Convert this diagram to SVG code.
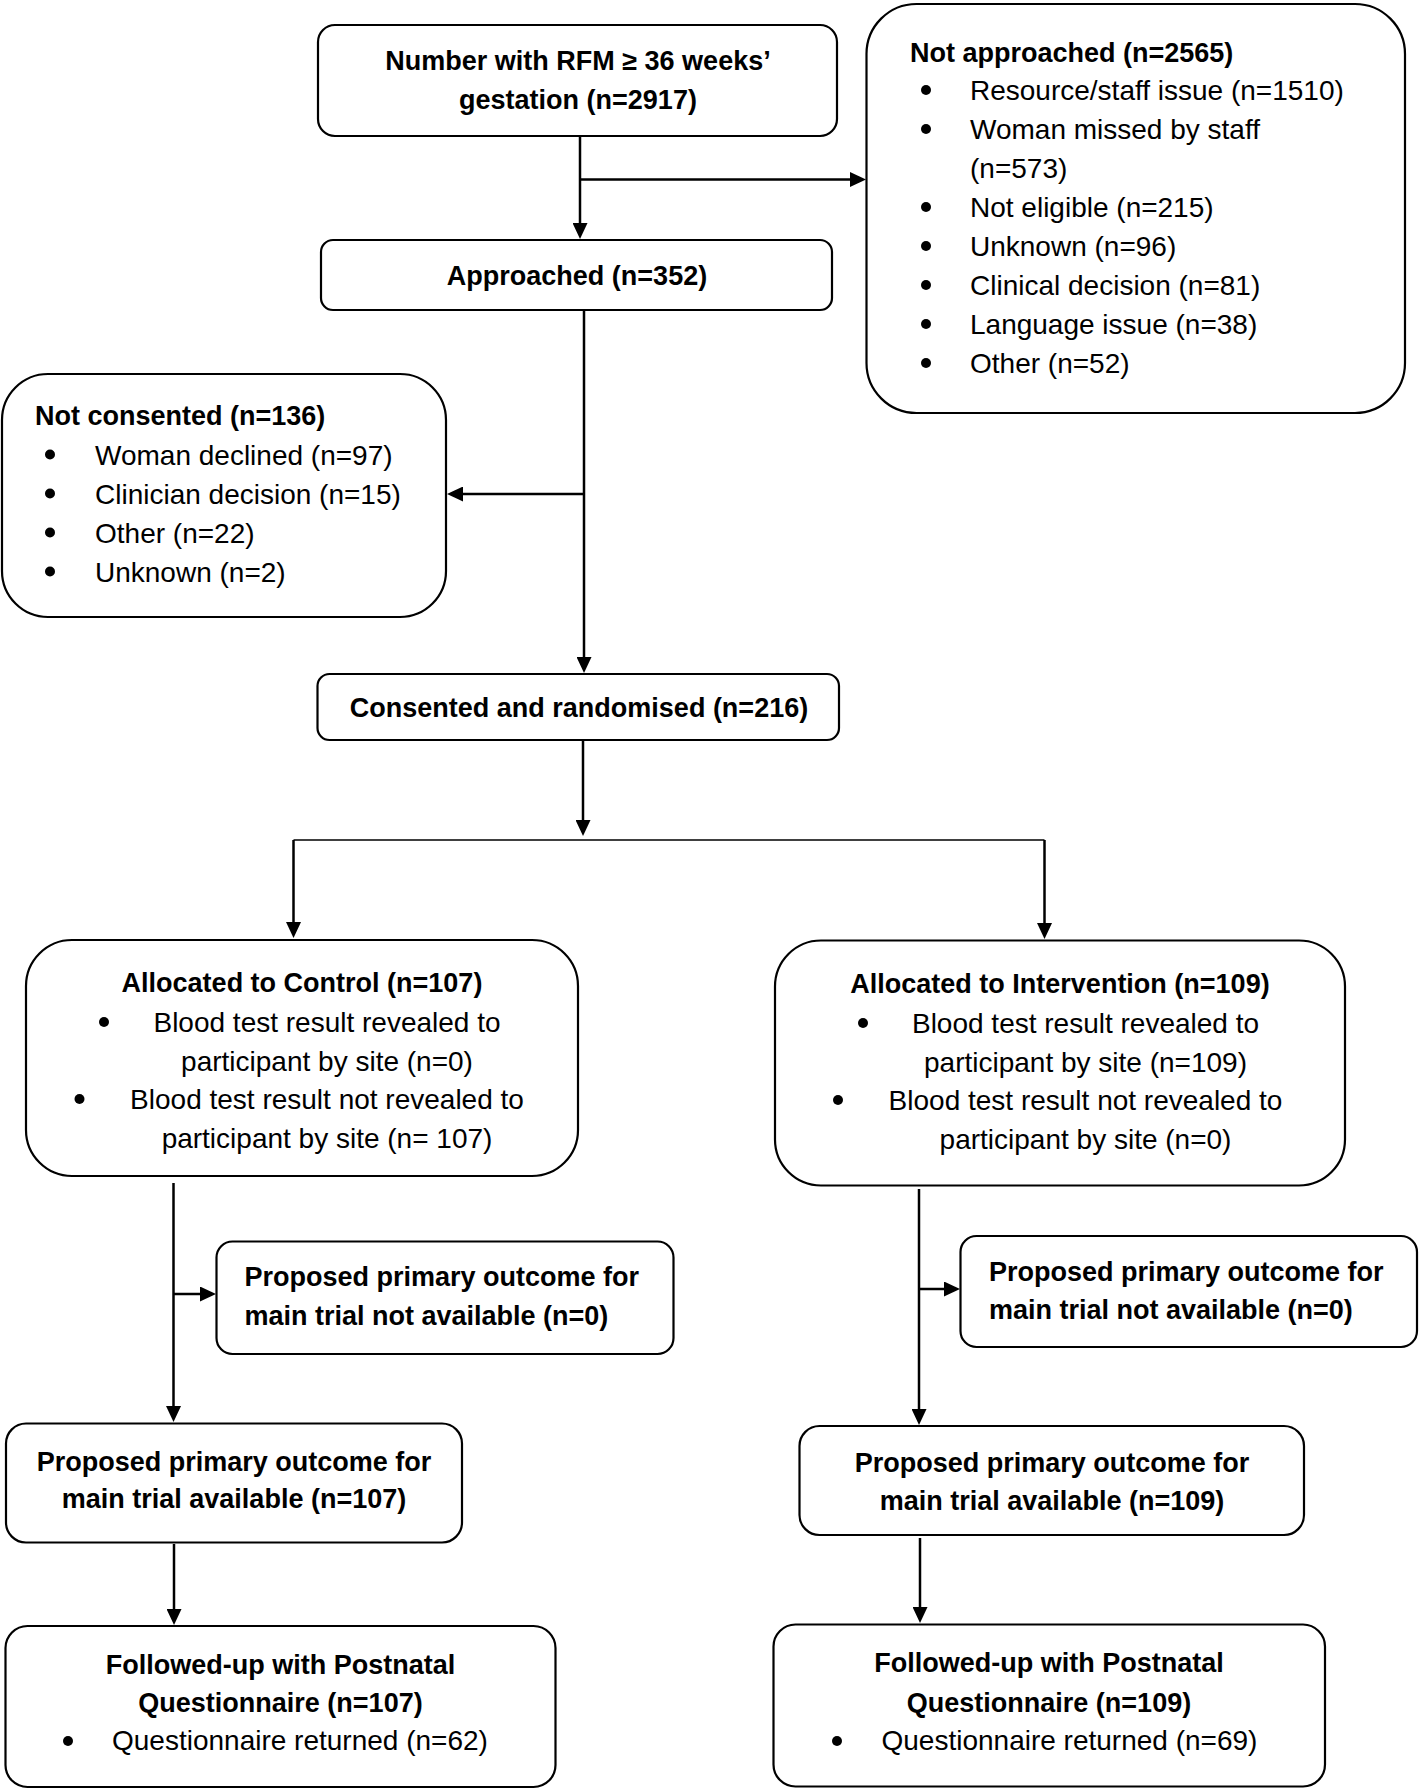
<svg xmlns="http://www.w3.org/2000/svg" width="1420" height="1790" viewBox="0 0 1420 1790">
<style>
  .box { fill: #fff; stroke: #000; stroke-width: 2.2; }
  .b { font-family: "Liberation Sans", Arial, sans-serif; font-weight: bold; font-size: 27px; fill: #000; }
  .r { font-family: "Liberation Sans", Arial, sans-serif; font-size: 28px; fill: #000; }
  .m { text-anchor: middle; }
  .ln { fill: none; stroke: #000; stroke-width: 2.5; }
  .thin { fill: none; stroke: #000; stroke-width: 1.6; }
  .dot { fill: #000; }
</style>
<defs>
  <marker id="arr" markerUnits="userSpaceOnUse" markerWidth="17" markerHeight="15" refX="12" refY="7.5" orient="auto">
    <path d="M0,0 L16,7.5 L0,15 z" fill="#000"/>
  </marker>
</defs>
<rect width="1420" height="1790" fill="#fff"/>

<g id="connectors">
  <line class="ln" x1="580" y1="136" x2="580" y2="235" marker-end="url(#arr)"/>
  <line class="ln" x1="580" y1="179.5" x2="862" y2="179.5" marker-end="url(#arr)"/>
  <line class="ln" x1="584" y1="310" x2="584" y2="669" marker-end="url(#arr)"/>
  <line class="ln" x1="584" y1="494" x2="451" y2="494" marker-end="url(#arr)"/>
  <line class="ln" x1="583" y1="740" x2="583" y2="832" marker-end="url(#arr)"/>
  <line class="thin" x1="293.5" y1="840" x2="1044.5" y2="840"/>
  <line class="ln" x1="293.5" y1="840" x2="293.5" y2="934" marker-end="url(#arr)"/>
  <line class="ln" x1="1044.5" y1="840" x2="1044.5" y2="935" marker-end="url(#arr)"/>
  <line class="ln" x1="173.5" y1="1183" x2="173.5" y2="1418" marker-end="url(#arr)"/>
  <line class="ln" x1="173.5" y1="1294" x2="212" y2="1294" marker-end="url(#arr)"/>
  <line class="ln" x1="174" y1="1544" x2="174" y2="1621" marker-end="url(#arr)"/>
  <line class="ln" x1="919" y1="1189" x2="919" y2="1421" marker-end="url(#arr)"/>
  <line class="ln" x1="919" y1="1289" x2="956" y2="1289" marker-end="url(#arr)"/>
  <line class="ln" x1="920" y1="1538" x2="920" y2="1619" marker-end="url(#arr)"/>
</g>

<g id="n-total">
  <rect class="box" x="318" y="25" width="519" height="111" rx="17"/>
  <text class="b m" x="578" y="70">Number with RFM ≥ 36 weeks’</text>
  <text class="b m" x="578" y="108.5">gestation (n=2917)</text>
</g>

<g id="n-not-approached">
  <rect class="box" x="866.5" y="4" width="538.5" height="409" rx="50"/>
  <text class="b" x="910" y="61.5">Not approached (n=2565)</text>
  <circle class="dot" cx="926" cy="90" r="5"/>
  <text class="r" x="970" y="100">Resource/staff issue (n=1510)</text>
  <circle class="dot" cx="926" cy="129" r="5"/>
  <text class="r" x="970" y="139">Woman missed by staff</text>
  <text class="r" x="970" y="178">(n=573)</text>
  <circle class="dot" cx="926" cy="207" r="5"/>
  <text class="r" x="970" y="217">Not eligible (n=215)</text>
  <circle class="dot" cx="926" cy="246" r="5"/>
  <text class="r" x="970" y="256">Unknown (n=96)</text>
  <circle class="dot" cx="926" cy="285" r="5"/>
  <text class="r" x="970" y="295">Clinical decision (n=81)</text>
  <circle class="dot" cx="926" cy="324" r="5"/>
  <text class="r" x="970" y="334">Language issue (n=38)</text>
  <circle class="dot" cx="926" cy="363" r="5"/>
  <text class="r" x="970" y="373">Other (n=52)</text>
</g>

<g id="n-approached">
  <rect class="box" x="321" y="240" width="511" height="70" rx="12"/>
  <text class="b m" x="577" y="285">Approached (n=352)</text>
</g>

<g id="n-not-consented">
  <rect class="box" x="2" y="374" width="444" height="243" rx="46"/>
  <text class="b" x="35" y="425">Not consented (n=136)</text>
  <circle class="dot" cx="50" cy="454.5" r="5"/>
  <text class="r" x="95" y="464.5">Woman declined (n=97)</text>
  <circle class="dot" cx="50" cy="493.5" r="5"/>
  <text class="r" x="95" y="503.5">Clinician decision (n=15)</text>
  <circle class="dot" cx="50" cy="532.5" r="5"/>
  <text class="r" x="95" y="542.5">Other (n=22)</text>
  <circle class="dot" cx="50" cy="571.5" r="5"/>
  <text class="r" x="95" y="581.5">Unknown (n=2)</text>
</g>

<g id="n-consented">
  <rect class="box" x="317.5" y="674" width="521.5" height="66" rx="12"/>
  <text class="b m" x="579" y="717">Consented and randomised (n=216)</text>
</g>

<g id="n-control">
  <rect class="box" x="26" y="940" width="552" height="236" rx="46"/>
  <text class="b m" x="302" y="992">Allocated to Control (n=107)</text>
  <circle class="dot" cx="104" cy="1022" r="5"/>
  <text class="r m" x="327" y="1032">Blood test result revealed to</text>
  <text class="r m" x="327" y="1070.5">participant by site (n=0)</text>
  <circle class="dot" cx="79.5" cy="1099" r="5"/>
  <text class="r m" x="327" y="1109">Blood test result not revealed to</text>
  <text class="r m" x="327" y="1147.5">participant by site (n= 107)</text>
</g>

<g id="n-intervention">
  <rect class="box" x="775" y="940.5" width="570" height="245" rx="46"/>
  <text class="b m" x="1060" y="993">Allocated to Intervention (n=109)</text>
  <circle class="dot" cx="863" cy="1023" r="5"/>
  <text class="r m" x="1085.5" y="1033">Blood test result revealed to</text>
  <text class="r m" x="1085.5" y="1071.5">participant by site (n=109)</text>
  <circle class="dot" cx="838" cy="1100" r="5"/>
  <text class="r m" x="1085.5" y="1110">Blood test result not revealed to</text>
  <text class="r m" x="1085.5" y="1148.5">participant by site (n=0)</text>
</g>

<g id="n-control-not-available">
  <rect class="box" x="216.5" y="1241.5" width="457" height="112.5" rx="16"/>
  <text class="b" x="244.5" y="1286">Proposed primary outcome for</text>
  <text class="b" x="244.5" y="1325">main trial not available (n=0)</text>
</g>

<g id="n-intervention-not-available">
  <rect class="box" x="960.5" y="1236" width="456.5" height="111" rx="16"/>
  <text class="b" x="989" y="1280.5">Proposed primary outcome for</text>
  <text class="b" x="989" y="1318.5">main trial not available (n=0)</text>
</g>

<g id="n-control-available">
  <rect class="box" x="6" y="1423.5" width="456" height="119" rx="20"/>
  <text class="b m" x="234" y="1470.5">Proposed primary outcome for</text>
  <text class="b m" x="234" y="1507.5">main trial available (n=107)</text>
</g>

<g id="n-intervention-available">
  <rect class="box" x="799.5" y="1426" width="504.5" height="109" rx="20"/>
  <text class="b m" x="1052" y="1471.5">Proposed primary outcome for</text>
  <text class="b m" x="1052" y="1510">main trial available (n=109)</text>
</g>

<g id="n-control-followup">
  <rect class="box" x="5.5" y="1626" width="550" height="161" rx="22"/>
  <text class="b m" x="280.5" y="1673.5">Followed-up with Postnatal</text>
  <text class="b m" x="280.5" y="1711.5">Questionnaire (n=107)</text>
  <circle class="dot" cx="68" cy="1741" r="5"/>
  <text class="r" x="112" y="1750">Questionnaire returned (n=62)</text>
</g>

<g id="n-intervention-followup">
  <rect class="box" x="773.5" y="1624.5" width="551.5" height="162" rx="22"/>
  <text class="b m" x="1049" y="1672">Followed-up with Postnatal</text>
  <text class="b m" x="1049" y="1711.5">Questionnaire (n=109)</text>
  <circle class="dot" cx="837" cy="1741" r="5"/>
  <text class="r" x="881.5" y="1750">Questionnaire returned (n=69)</text>
</g>
</svg>
